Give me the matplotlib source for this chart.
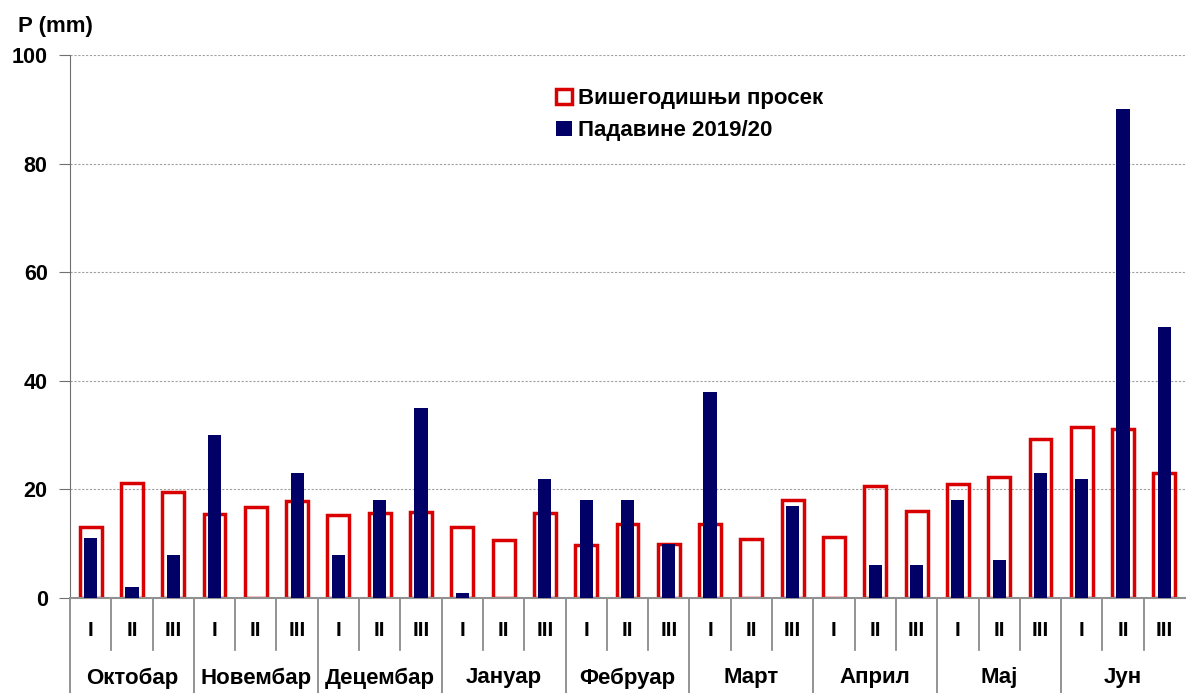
import matplotlib.pyplot as plt
import numpy as np

plt.rcParams['font.family'] = ['Liberation Sans', 'DejaVu Sans']

months = ['Октобар', 'Новембар', 'Децембар', 'Јануар', 'Фебруар',
          'Март', 'Април', 'Мај', 'Јун']
decades = ['I', 'II', 'III']

# вишегодишњи просек по декадама
prosek = [13.0, 21.2, 19.5, 15.5, 16.8, 17.9, 15.3, 15.7, 15.8,
          13.1, 10.7, 15.7, 9.8, 13.6, 10.0, 13.6, 10.9, 18.0,
          11.2, 20.6, 16.0, 21.0, 22.3, 29.3, 31.5, 31.1, 23.0]
# падавине 2019/20
padavine = [11, 2, 8, 30, 0, 23, 8, 18, 35,
            1, 0, 22, 18, 18, 10, 38, 0, 17,
            0, 6, 6, 18, 7, 23, 22, 90, 50]

red = '#d80000'
navy = '#000066'

fig = plt.figure(figsize=(11.9, 6.93), dpi=100)
ax = fig.add_axes([0.0588, 0.137, 0.937, 0.7836])

x = np.arange(len(prosek))
ax.bar(x, prosek, width=0.53, facecolor='none', edgecolor=red, linewidth=2.5,
       zorder=2, label='Вишегодишњи просек')
ax.bar(x, padavine, width=0.32, color=navy, zorder=3, label='Падавине 2019/20')

ax.set_xlim(-0.5, len(prosek) - 0.5)
ax.set_ylim(0, 100)
ax.set_yticks(np.arange(0, 101, 20))
ax.set_yticklabels([str(v) for v in range(0, 101, 20)], fontsize=15.5, fontweight='bold')
ax.tick_params(axis='y', length=8, color='#707070', pad=8)
ax.set_xticks([])
ax.yaxis.grid(True, linestyle=(0, (2, 1.5)), color='#a0a0a0', linewidth=0.8)
ax.set_axisbelow(True)

for s in ['top', 'right']:
    ax.spines[s].set_visible(False)
ax.spines['left'].set_color('#707070')
ax.spines['bottom'].set_color('#909090')
ax.spines['bottom'].set_linewidth(1.5)

# двостепене ознаке на x оси
trans = ax.get_xaxis_transform()
for i in range(len(prosek)):
    xb = i - 0.5
    y_end = -0.175 if i % 3 == 0 else -0.096
    ax.plot([xb, xb], [0, y_end], color='#808080', lw=1.2,
            transform=trans, clip_on=False)
    ax.text(i, -0.059, decades[i % 3], transform=trans, ha='center', va='center',
            fontsize=15, fontweight='bold')
for m, name in enumerate(months):
    ax.text(3 * m + 1, -0.147, name, transform=trans, ha='center', va='center',
            fontsize=16, fontweight='bold')

fig.text(0.015, 0.962, 'P (mm)', fontsize=16, fontweight='bold', va='center')

leg = ax.legend(loc='upper left', bbox_to_anchor=(0.428, 0.955), frameon=False,
                fontsize=16, handlelength=0.7, handleheight=0.7,
                handletextpad=0.3, labelspacing=0.5, borderaxespad=0)
for t in leg.get_texts():
    t.set_fontweight('bold')

fig.savefig('out.png', dpi=100)
